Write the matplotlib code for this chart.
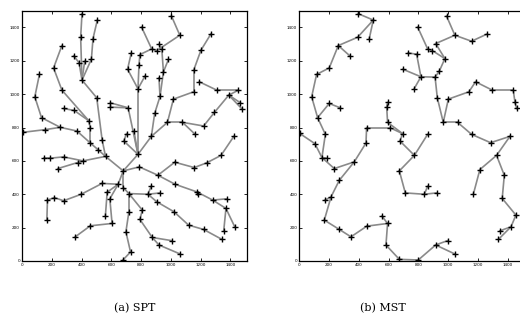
import matplotlib
matplotlib.use("Agg")
import matplotlib.pyplot as plt

# SPT panel: node positions (root is node 0)
spt_x = [680, 403, 394, 506, 477, 268, 347, 383, 421, 466,
         212, 403, 117, 268, 86, 502, 279, 351, 131, 448,
         459, 257, 153, 5, 369, 538, 459, 511, 561, 594,
         594, 713, 702, 684, 752, 779, 151, 189, 279, 376,
         410, 241, 538, 646, 572, 590, 560, 605, 459, 358,
         171, 218, 279, 398, 167, 680, 718, 718, 698, 729,
         680, 869, 1423, 1337, 1240, 1157, 1026, 788, 913, 869,
         1028, 1175, 1179, 1281, 1377, 1370, 1429, 1355, 1344, 1220,
         1119, 1021, 905, 846, 927, 808, 792, 875, 1006, 920,
         1062, 1004, 1060, 803, 871, 905, 920, 939, 984, 792,
         786, 734, 826, 920, 950, 779, 927, 1269, 1202, 1153,
         1191, 1153, 1017, 1308, 1454, 1389, 1467, 1479, 891, 977,
         1078, 1220, 1163, 1292, 709]
spt_y = [540, 1482, 1341, 1444, 1333, 1291, 1229, 1189, 1197, 1209,
         1157, 1084, 1118, 1024, 984, 978, 914, 902, 859, 841,
         795, 801, 787, 771, 779, 727, 707, 667, 627, 948,
         922, 918, 763, 719, 779, 639, 616, 616, 624, 590,
         600, 554, 465, 460, 412, 373, 269, 225, 211, 145,
         365, 380, 361, 400, 245, 440, 404, 295, 175, 54,
         8, 747, 747, 633, 588, 560, 592, 564, 514, 450,
         460, 414, 400, 365, 373, 315, 205, 181, 129, 189,
         215, 295, 355, 400, 408, 305, 249, 141, 122, 96,
         42, 1468, 1353, 1402, 1271, 1261, 1299, 1271, 1209, 1237,
         1177, 1247, 1108, 1098, 1133, 1032, 986, 1361, 1263, 1143,
         1074, 1014, 970, 1024, 1024, 994, 948, 910, 884, 831,
         831, 809, 759, 890, 1149]
spt_edges = [(1, 2), (2, 11), (3, 4), (4, 9), (9, 11), (8, 11), (7, 11), (6, 7),
             (5, 10), (10, 13), (13, 19), (11, 15), (15, 25), (16, 17), (17, 19),
             (19, 20), (20, 26), (25, 28), (26, 27), (27, 28), (28, 0),
             (12, 14), (14, 18), (18, 21), (23, 22), (22, 21), (21, 24), (24, 26),
             (29, 31), (30, 31), (31, 35), (32, 33), (33, 35), (34, 35), (35, 0),
             (124, 101), (124, 105), (99, 100), (100, 105), (102, 105), (105, 35),
             (91, 92), (92, 95), (95, 94), (93, 94), (94, 99), (96, 97), (97, 104),
             (98, 104), (104, 106), (103, 106), (106, 118), (118, 61), (61, 35),
             (107, 108), (108, 109), (109, 111), (111, 112), (112, 119), (119, 61),
             (119, 120), (120, 122), (120, 121), (121, 123), (123, 115), (115, 116),
             (115, 117), (114, 115), (113, 114), (110, 113),
             (62, 63), (63, 64), (64, 65), (65, 66), (66, 68), (67, 68), (67, 0),
             (69, 83), (68, 70), (70, 71), (71, 72), (71, 73), (73, 74), (73, 75),
             (75, 76), (75, 77), (78, 79), (79, 80), (80, 81), (81, 82), (82, 83),
             (83, 84), (0, 55), (55, 56), (56, 83), (56, 85), (56, 57), (57, 58),
             (58, 59), (59, 60), (85, 86), (86, 87), (87, 88), (87, 89), (89, 90),
             (0, 43), (43, 42), (42, 53), (53, 52), (52, 51), (51, 50), (50, 54),
             (43, 44), (44, 46), (43, 45), (45, 47), (47, 48), (48, 49),
             (36, 37), (37, 38), (38, 40), (39, 40), (41, 40), (40, 28)]

# MST panel: its own node set
mst_x = [396, 497, 470, 392, 262, 340, 201, 116, 83, 201,
         275, 123, 175, 2, 732, 696, 593, 587, 593, 452,
         609, 694, 105, 152, 184, 235, 369, 448, 269, 213,
         172, 168, 269, 347, 454, 555, 593, 582, 672, 676,
         672, 712, 989, 795, 1045, 1157, 1263, 916, 862, 893,
         978, 788, 817, 912, 940, 770, 927, 1001, 1139, 1184,
         1296, 1437, 1449, 1460, 967, 1063, 1157, 862, 1415, 773,
         1285, 1325, 1213, 1169, 1377, 1363, 1455, 1422, 1348, 1337,
         840, 862, 922, 916, 996, 1045, 799]
mst_y = [1482, 1444, 1333, 1341, 1291, 1229, 1157, 1118, 984, 944,
         918, 859, 759, 765, 1247, 1149, 950, 922, 831, 799,
         799, 763, 703, 620, 616, 554, 594, 707, 484, 384,
         365, 245, 189, 145, 209, 269, 225, 96, 10, 719,
         540, 408, 1468, 1402, 1353, 1317, 1361, 1303, 1271, 1261,
         1213, 1239, 1104, 1102, 1137, 1030, 978, 970, 1014, 1074,
         1024, 1024, 950, 914, 831, 831, 759, 759, 747, 633,
         709, 633, 548, 400, 514, 375, 275, 205, 181, 129,
         400, 448, 408, 96, 122, 42, 6]
mst_edges = [(0, 1), (1, 2), (1, 3), (3, 4), (4, 5), (4, 6), (6, 7), (7, 8),
             (8, 11), (11, 9), (9, 10), (11, 12), (13, 22), (12, 23), (22, 23),
             (23, 24), (23, 25), (25, 26), (26, 27), (27, 19), (19, 20), (20, 21),
             (16, 17), (17, 18), (18, 21), (21, 39), (39, 69), (69, 40), (69, 67),
             (40, 41), (41, 80), (80, 81), (80, 82), (26, 28), (28, 29), (29, 30),
             (29, 31), (31, 32), (32, 33), (33, 34), (34, 36), (35, 36), (36, 37),
             (37, 38), (38, 86), (86, 83), (83, 84), (83, 85), (15, 52), (14, 51),
             (51, 52), (52, 55), (52, 53), (53, 54), (54, 50), (50, 49), (49, 48),
             (48, 43), (50, 47), (47, 44), (44, 42), (44, 45), (45, 46), (53, 56),
             (56, 64), (64, 57), (57, 58), (58, 59), (59, 60), (60, 61), (61, 62),
             (62, 63), (64, 65), (65, 66), (66, 70), (70, 68), (68, 71), (71, 72),
             (72, 73), (71, 74), (74, 75), (75, 76), (76, 77), (77, 78), (77, 79)]

ticks = [0, 200, 400, 600, 800, 1000, 1200, 1400]


def draw_tree(ax, xs, ys, edges):
    # gray edges first, then the black crosses on top
    for a, b in edges:
        ax.plot([xs[a], xs[b]], [ys[a], ys[b]], "-", color="#8a8a8a", lw=1.2,
                zorder=1)
    ax.plot(xs, ys, "k+", ms=4.2, mew=1.0, zorder=2)
    ax.set_xlim(0, 1510)
    ax.set_ylim(0, 1500)
    ax.set_xticks(ticks)
    ax.set_yticks(ticks)
    ax.tick_params(direction="in", length=2.5, width=0.6, labelsize=3,
                   pad=1.5, top=True, right=True)
    for s in ax.spines.values():
        s.set_linewidth(0.9)


fig = plt.figure(figsize=(5.2, 3.29), dpi=100)
ax1 = fig.add_axes([22 / 520, 68 / 329, 224.8 / 520, 250.3 / 329])
ax2 = fig.add_axes([299.3 / 520, 68 / 329, 224.8 / 520, 250.3 / 329])

draw_tree(ax1, spt_x, spt_y, spt_edges)
draw_tree(ax2, mst_x, mst_y, mst_edges)

fig.text(135 / 520, 1 - 308 / 329, "(a) SPT", ha="center", va="center",
         fontsize=8, family="DejaVu Serif")
fig.text(383 / 520, 1 - 308 / 329, "(b) MST", ha="center", va="center",
         fontsize=8, family="DejaVu Serif")

fig.savefig("out.png", dpi=100)
